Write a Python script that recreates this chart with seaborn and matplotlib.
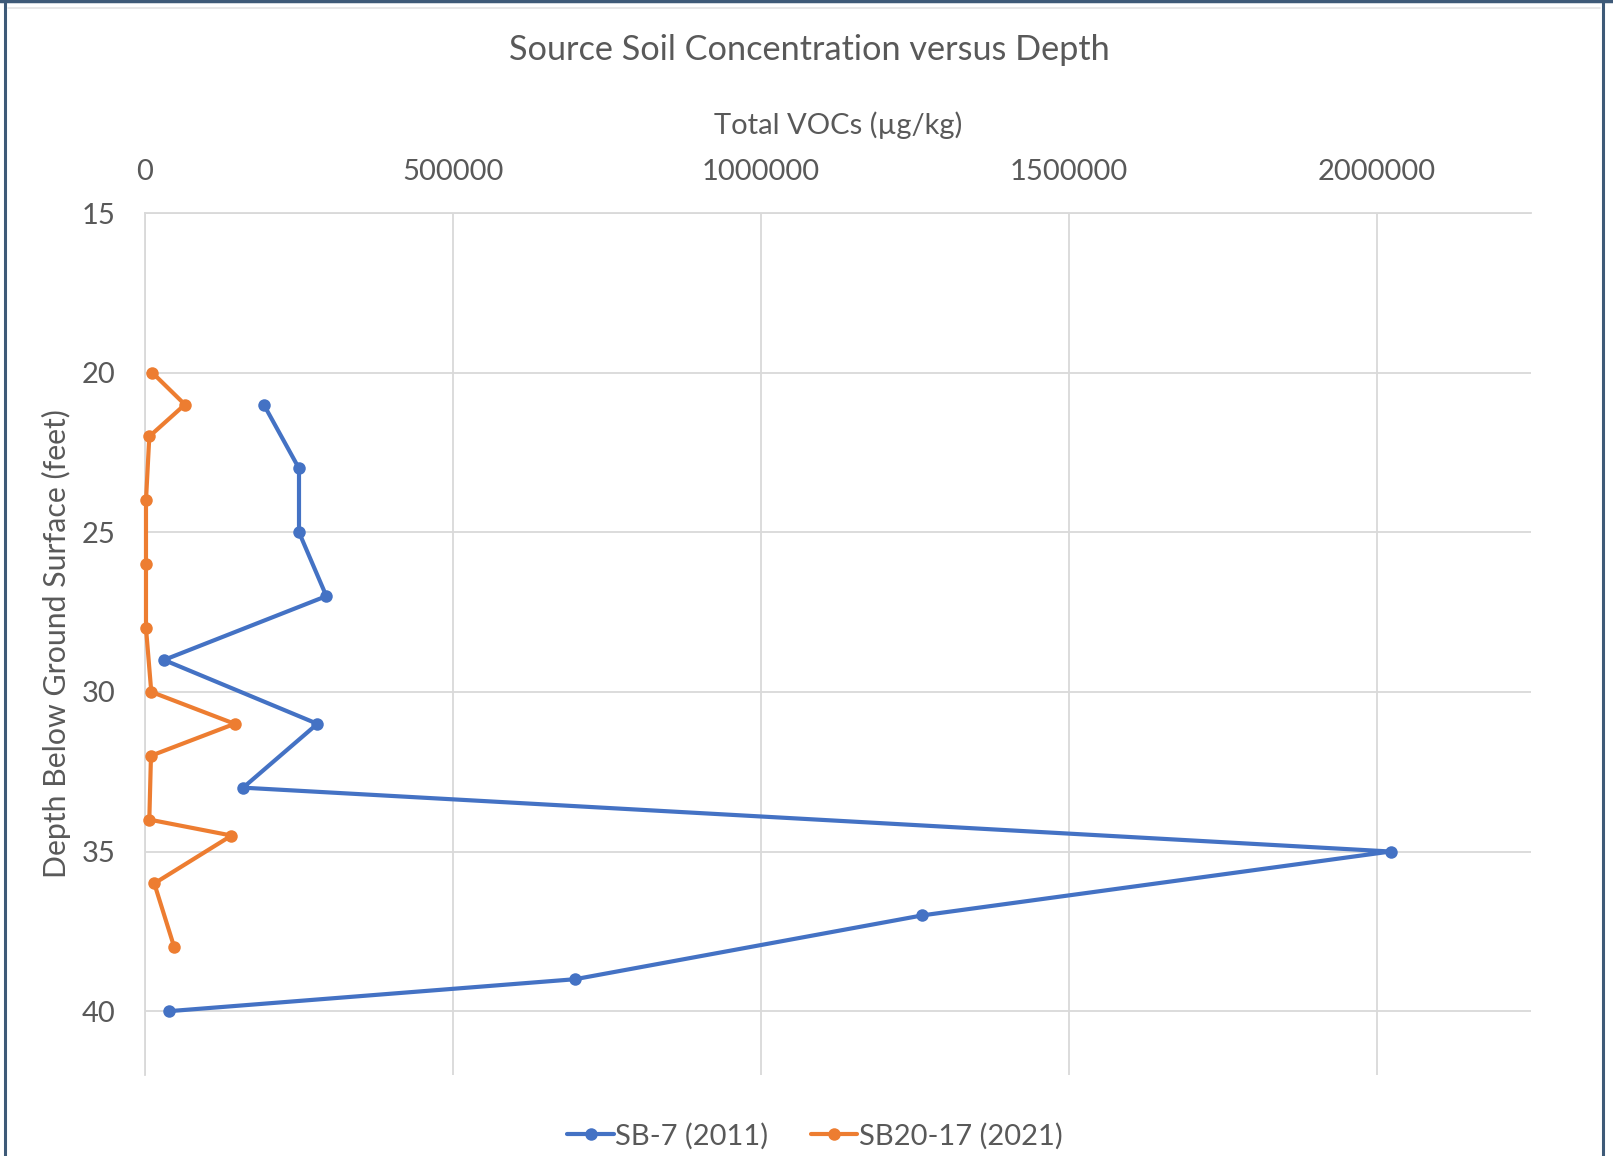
import matplotlib
matplotlib.use("Agg")
import matplotlib.pyplot as plt
from matplotlib.lines import Line2D
import pandas as pd
import seaborn as sns

# Boring SB-7 (2011)
sb7_depth = [21, 23, 25, 27, 29, 31, 33, 35, 37, 39, 40]
sb7_vocs = [192800, 250000, 250000, 294400, 30800, 279800, 159300, 2022000, 1262000, 698000, 39400]

# Boring SB20-17 (2021)
sb20_depth = [20, 21, 22, 24, 26, 28, 30, 31, 32, 34, 34.5, 36, 38]
sb20_vocs = [11800, 64800, 7000, 1600, 1600, 1600, 10200, 145500, 9700, 7000, 140400, 15100, 47500]

series_names = ["SB-7 (2011)", "SB20-17 (2021)"]
x_ticks = [0, 500000, 1000000, 1500000, 2000000]
y_ticks = [15, 20, 25, 30, 35, 40]

df = pd.concat([
    pd.DataFrame({"depth": sb7_depth, "vocs": sb7_vocs, "boring": series_names[0]}),
    pd.DataFrame({"depth": sb20_depth, "vocs": sb20_vocs, "boring": series_names[1]}),
], ignore_index=True)

sns.set_theme(style="white")
plt.rcParams["font.family"] = ["Lato", "DejaVu Sans"]

TEXT = "#595959"
GRID = "#D9D9D9"
palette = {series_names[0]: "#4472C4", series_names[1]: "#ED7D31"}
LW, MS = 3.0, 9

W, H = 1613, 1156
fig = plt.figure(figsize=(W / 100, H / 100), dpi=100)
fig.patch.set_facecolor("white")
ax = fig.add_axes([145 / W, 1 - 1075 / H, (1531 - 145) / W, (1075 - 213) / H])

sns.lineplot(data=df, x="vocs", y="depth", hue="boring", palette=palette,
             sort=False, estimator=None, marker="o", markersize=MS,
             markeredgewidth=0, linewidth=LW, ax=ax, legend=False)
for line in ax.lines:
    line.set_clip_on(False)
    line.set_zorder(5)

ax.set_xlim(0, 2250000)
ax.set_ylim(42, 15)
ax.set_xticks(x_ticks)
ax.set_yticks(y_ticks)
ax.set_xticklabels([str(v) for v in x_ticks])
ax.xaxis.tick_top()
ax.tick_params(axis="both", length=0, labelsize=21, colors=TEXT)
ax.tick_params(axis="x", pad=20.5)
ax.tick_params(axis="y", pad=21)
ax.grid(True, color=GRID, linewidth=1.3)
for side in ["right", "bottom"]:
    ax.spines[side].set_visible(False)
ax.spines["top"].set_color(GRID)
ax.spines["left"].set_color(GRID)
ax.spines["top"].set_linewidth(1.3)
ax.spines["left"].set_linewidth(1.3)

ax.set_xlabel("Total VOCs (µg/kg)", fontsize=21, color=TEXT)
ax.xaxis.set_label_position("top")
ax.xaxis.set_label_coords(0.5, 1 + (213 - 125.5) / 862, transform=ax.transAxes)
ax.xaxis.label.set_va("center")
ax.set_ylabel("Depth Below Ground Surface (feet)", fontsize=21.8, color=TEXT)
ax.yaxis.set_label_coords((56 - 145) / 1386, 0.5)
ax.yaxis.label.set_va("center")

fig.text(809 / W, 1 - 50 / H, "Source Soil Concentration versus Depth",
         ha="center", va="center", fontsize=24.7, color=TEXT)

handles = [Line2D([0], [0], color=palette[n], marker="o", markersize=MS,
                  markeredgewidth=0, linewidth=LW) for n in series_names]
fig.legend(handles, series_names, loc="center", bbox_to_anchor=(815 / W, 1 - 1136 / H),
           ncol=2, frameon=False, fontsize=21, handlelength=1.6, handletextpad=0.05,
           columnspacing=1.45, labelcolor=TEXT)

# window frame around the chart area
NAVY = "#3E5A78"
fig.add_artist(Line2D([5 / W, 5 / W], [0, 1], color=NAVY, linewidth=2.2))
fig.add_artist(Line2D([1603 / W, 1603 / W], [0, 1], color=NAVY, linewidth=2.2))
fig.add_artist(Line2D([0, 1], [1 - 1 / H, 1 - 1 / H], color=NAVY, linewidth=2.5))
fig.add_artist(Line2D([8 / W, 1600 / W], [1 - 8 / H, 1 - 8 / H], color="#E4E4E4", linewidth=1.2))

fig.savefig("out.png", dpi=100, facecolor="white")
